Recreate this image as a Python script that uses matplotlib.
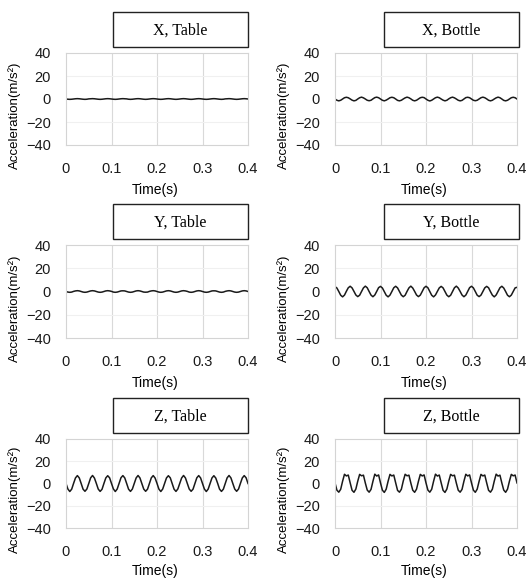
"""Six small acceleration plots: X/Y/Z axes for table and bottle placement."""

import matplotlib
matplotlib.use("Agg")
import matplotlib.pyplot as plt
from matplotlib.patches import Rectangle
import numpy as np

plt.rcParams["font.family"] = ["Liberation Sans", "DejaVu Sans"]

# sampling grid of the traces (seconds), 97 samples over 0..0.4 s
time_s = np.linspace(0.0, 0.4, 97)

x_table = [
    0.0, -0.2, -0.3, -0.2, 0.0, 0.2, 0.3, 0.2,
    0.0, -0.2, -0.3, -0.2, 0.1, 0.2, 0.3, 0.2,
    0.0, -0.2, -0.3, -0.2, 0.0, 0.2, 0.3, 0.2,
    0.0, -0.2, -0.3, -0.2, 0.0, 0.2, 0.3, 0.2,
    0.1, -0.2, -0.3, -0.2, 0.0, 0.2, 0.3, 0.2,
    0.0, -0.2, -0.3, -0.2, 0.0, 0.2, 0.3, 0.2,
    0.0, -0.2, -0.3, -0.2, 0.0, 0.2, 0.3, 0.2,
    0.0, -0.2, -0.3, -0.2, 0.0, 0.2, 0.3, 0.2,
    0.0, -0.2, -0.3, -0.2, 0.0, 0.2, 0.3, 0.2,
    0.0, -0.2, -0.3, -0.2, 0.0, 0.2, 0.3, 0.2,
    0.0, -0.2, -0.3, -0.2, 0.1, 0.2, 0.3, 0.2,
    0.0, -0.2, -0.3, -0.2, 0.0, 0.2, 0.3, 0.2,
    0.0,
]

x_bottle = [
    0.0, -1.1, -1.6, -1.1, 0.0, 1.1, 1.5, 1.1,
    0.1, -1.0, -1.6, -1.2, 0.0, 1.1, 1.6, 1.0,
    0.0, -1.1, -1.5, -1.1, 0.1, 1.2, 1.6, 1.1,
    0.0, -1.1, -1.6, -1.0, 0.0, 1.1, 1.5, 1.1,
    0.0, -1.2, -1.6, -1.1, 0.0, 1.0, 1.6, 1.1,
    0.1, -1.1, -1.6, -1.1, 0.0, 1.1, 1.5, 1.2,
    0.0, -1.1, -1.7, -1.1, 0.0, 1.1, 1.6, 1.1,
    0.0, -1.0, -1.6, -1.1, 0.1, 1.1, 1.6, 1.0,
    0.0, -1.1, -1.6, -1.2, 0.0, 1.2, 1.5, 1.1,
    0.0, -1.1, -1.5, -1.1, 0.0, 1.1, 1.6, 1.1,
    0.1, -1.1, -1.6, -1.1, 0.0, 1.0, 1.6, 1.1,
    0.0, -1.2, -1.6, -1.1, 0.0, 1.1, 1.5, 1.1,
    0.0,
]

y_table = [
    0.0, -0.5, -0.7, -0.5, 0.1, 0.5, 0.7, 0.5,
    0.0, -0.5, -0.7, -0.5, 0.0, 0.5, 0.7, 0.5,
    0.0, -0.5, -0.7, -0.5, 0.0, 0.5, 0.7, 0.5,
    0.1, -0.5, -0.7, -0.5, 0.0, 0.5, 0.6, 0.5,
    0.0, -0.5, -0.7, -0.5, 0.0, 0.5, 0.7, 0.5,
    0.0, -0.5, -0.6, -0.5, 0.1, 0.5, 0.7, 0.5,
    0.0, -0.5, -0.7, -0.5, 0.0, 0.5, 0.7, 0.5,
    0.0, -0.5, -0.7, -0.5, 0.0, 0.5, 0.7, 0.5,
    0.1, -0.5, -0.7, -0.5, 0.0, 0.5, 0.7, 0.5,
    0.0, -0.5, -0.7, -0.5, 0.0, 0.5, 0.6, 0.5,
    0.0, -0.5, -0.7, -0.5, 0.1, 0.5, 0.7, 0.5,
    0.0, -0.5, -0.7, -0.5, 0.0, 0.5, 0.7, 0.5,
    0.0,
]

y_bottle = [
    4.2, 3.0, 0.0, -3.2, -4.6, -3.1, 0.2, 3.2,
    4.5, 3.1, 0.1, -3.0, -4.4, -3.2, 0.0, 3.1,
    4.6, 3.2, 0.0, -3.1, -4.5, -3.0, 0.1, 3.3,
    4.4, 3.0, -0.1, -3.2, -4.6, -3.1, 0.0, 3.2,
    4.5, 3.1, 0.0, -3.1, -4.5, -3.2, 0.1, 3.1,
    4.6, 3.0, 0.1, -3.0, -4.4, -3.1, 0.0, 3.2,
    4.5, 3.2, 0.0, -3.2, -4.6, -3.0, 0.1, 3.1,
    4.4, 3.1, 0.0, -3.1, -4.5, -3.2, 0.0, 3.2,
    4.6, 3.0, 0.1, -3.0, -4.5, -3.1, 0.1, 3.3,
    4.5, 3.1, 0.0, -3.2, -4.4, -3.1, 0.0, 3.1,
    4.4, 3.2, -0.1, -3.1, -4.6, -3.0, 0.1, 3.2,
    4.5, 3.0, 0.0, -3.2, -4.5, -3.1, 0.0, 3.1,
    3.6,
]

z_table = [
    0.0, -5.0, -7.2, -5.1, 0.1, 5.0, 7.1, 5.0,
    0.0, -5.1, -7.0, -5.0, 0.0, 5.1, 7.2, 4.9,
    0.1, -5.0, -7.1, -5.2, 0.0, 5.0, 7.0, 5.1,
    0.0, -4.9, -7.2, -5.0, 0.1, 5.2, 7.1, 5.0,
    0.0, -5.1, -7.1, -5.0, 0.0, 5.0, 7.2, 5.0,
    0.0, -5.0, -7.0, -5.1, 0.0, 5.1, 7.1, 4.9,
    0.1, -5.0, -7.2, -5.0, 0.0, 5.0, 7.0, 5.1,
    0.0, -5.1, -7.1, -4.9, 0.1, 5.0, 7.2, 5.0,
    0.0, -5.0, -7.0, -5.1, 0.0, 5.1, 7.1, 5.0,
    0.0, -5.0, -7.2, -5.0, 0.0, 5.0, 7.0, 4.9,
    0.1, -5.1, -7.1, -5.1, 0.0, 5.1, 7.2, 5.0,
    0.0, -5.0, -7.0, -5.0, 0.1, 5.0, 7.1, 5.1,
    0.0,
]

z_bottle = [
    0.5, -6.0, -7.8, -5.2, 2.0, 8.3, 6.8, 7.6,
    0.6, -6.1, -7.9, -5.0, 2.1, 8.2, 6.9, 7.5,
    0.4, -5.9, -7.8, -5.3, 1.9, 8.4, 6.7, 7.7,
    0.5, -6.0, -8.0, -5.1, 2.0, 8.2, 6.8, 7.6,
    0.6, -6.2, -7.8, -5.2, 2.2, 8.3, 6.9, 7.5,
    0.4, -6.0, -7.9, -5.1, 1.9, 8.2, 6.8, 7.7,
    0.5, -5.9, -7.8, -5.2, 2.0, 8.4, 6.7, 7.6,
    0.6, -6.1, -8.0, -5.0, 2.1, 8.2, 6.9, 7.5,
    0.4, -6.0, -7.8, -5.3, 2.0, 8.3, 6.8, 7.7,
    0.5, -6.0, -7.9, -5.1, 1.9, 8.2, 6.8, 7.6,
    0.6, -6.1, -7.8, -5.2, 2.1, 8.4, 6.7, 7.5,
    0.5, -5.9, -7.9, -5.1, 2.0, 8.2, 6.9, 7.6,
    0.5,
]

titles = ["X, Table", "X, Bottle", "Y, Table", "Y, Bottle", "Z, Table", "Z, Bottle"]
series = [x_table, x_bottle, y_table, y_bottle, z_table, z_bottle]
x_ticks = [0, 0.1, 0.2, 0.3, 0.4]
x_tick_labels = ["0", "0.1", "0.2", "0.3", "0.4"]
y_ticks = [-40, -20, 0, 20, 40]

W, H = 529, 580
fig = plt.figure(figsize=(W / 100, H / 100), dpi=100)

col_left = [66, 335]           # axes left edge, px
ax_w = 182
row_top = [53, 245, 439]       # axes top edge, px
ax_h = [92, 93, 89]

for i, (title, ys) in enumerate(zip(titles, series)):
    r, c = divmod(i, 2)
    x0, y0, h = col_left[c], row_top[r], ax_h[r]
    ax = fig.add_axes([x0 / W, 1 - (y0 + h) / H, ax_w / W, h / H])
    ax.plot(time_s, ys, color="#1a1a1a", linewidth=1.1)
    ax.set_xlim(0, 0.4)
    ax.set_ylim(-40, 40)
    ax.set_xticks(x_ticks)
    ax.set_xticklabels(x_tick_labels)
    ax.set_yticks(y_ticks)
    ax.tick_params(length=0, labelsize=10.5, colors="#1a1a1a")
    ax.tick_params(axis="x", pad=12)
    ax.tick_params(axis="y", pad=11)
    for v in (0.1, 0.2, 0.3):
        ax.axvline(v, color="#d9d9d9", linewidth=0.8, zorder=0)
    for v in (-20, 20):
        ax.axhline(v, color="#f0f0f0", linewidth=0.8, zorder=0)
    for sp in ax.spines.values():
        sp.set_color("#d4d4d4")
        sp.set_linewidth(0.8)
    ax.set_xlabel("Time(s)", fontsize=10)
    ax.xaxis.set_label_coords(0.49, -0.41)
    ax.set_ylabel("Acceleration(m/s²)", fontsize=9.5)
    ax.yaxis.set_label_coords(-0.245, 0.32)

    # title box above the plot, right-aligned to it
    bx0 = x0 + ax_w - 135 + (2 if c else 0)
    by0 = y0 - 41
    fig.patches.append(Rectangle((bx0 / W, 1 - (by0 + 35) / H), 135 / W, 35 / H,
                                 transform=fig.transFigure, fill=True,
                                 facecolor="white", edgecolor="#222222",
                                 linewidth=1.0))
    fig.text((bx0 + 67.5) / W, 1 - (by0 + 19) / H, title, ha="center",
             va="center", fontsize=11.5, family="Liberation Serif")

fig.savefig("out.png", dpi=100)
plt.close(fig)
